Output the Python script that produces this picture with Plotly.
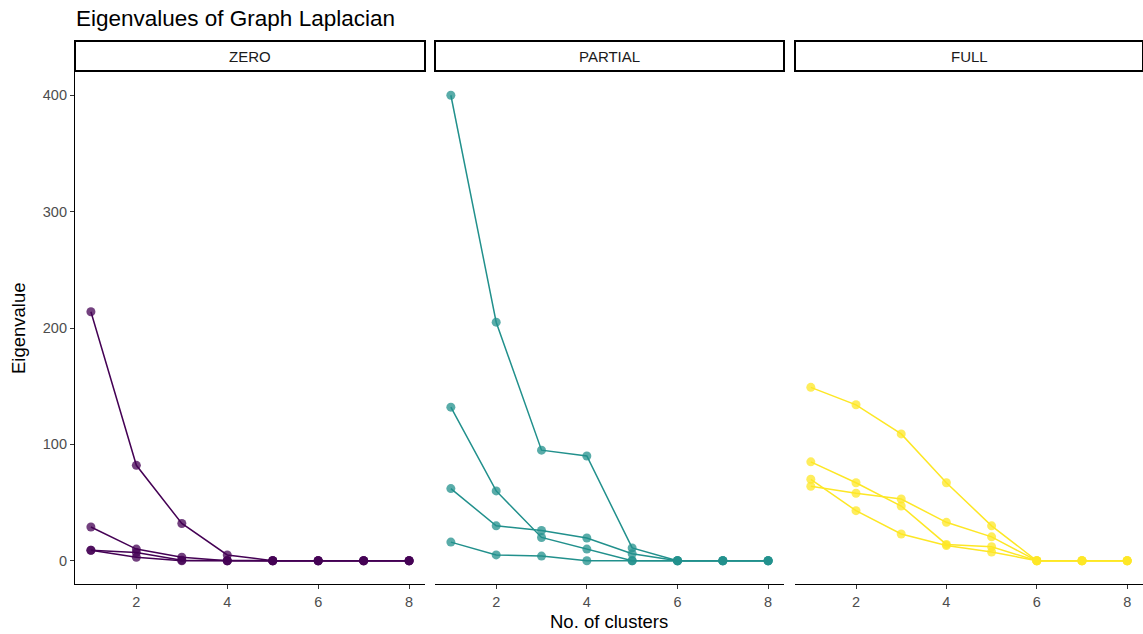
import plotly.graph_objects as go

clusters = [1, 2, 3, 4, 5, 6, 7, 8]
panels = ["ZERO", "PARTIAL", "FULL"]
colors = {"ZERO": "#440154", "PARTIAL": "#21908C", "FULL": "#FDE725"}
point_colors = {"ZERO": "rgba(68,1,84,0.75)", "PARTIAL": "rgba(33,144,140,0.75)", "FULL": "rgba(253,231,37,0.75)"}

zero_1 = [214, 82, 32, 5, 0, 0, 0, 0]
zero_2 = [29, 10, 3, 0, 0, 0, 0, 0]
zero_3 = [9, 7, 0.5, 0, 0, 0, 0, 0]
zero_4 = [9, 3, 0, 0, 0, 0, 0, 0]

partial_1 = [400, 205, 95, 90, 11, 0, 0, 0]
partial_2 = [132, 60, 20, 10, 0, 0, 0, 0]
partial_3 = [62, 30, 26, 19.5, 6, 0, 0, 0]
partial_4 = [16, 5, 4, 0, 0, 0, 0, 0]

full_1 = [149, 134, 109, 67, 30, 0, 0, 0]
full_2 = [85, 67, 47, 14, 12, 0, 0, 0]
full_3 = [64, 58, 53, 33, 20.5, 0, 0, 0]
full_4 = [70, 43, 23, 13, 7.5, 0, 0, 0]

series = {
    "ZERO": [zero_1, zero_2, zero_3, zero_4],
    "PARTIAL": [partial_1, partial_2, partial_3, partial_4],
    "FULL": [full_1, full_2, full_3, full_4],
}

W, H = 1143, 634
FONT = "Liberation Sans, Arial, sans-serif"
xdomains = [(75, 425), (435, 784), (795, 1143)]
ytop, ybot = 72, 584
TICK = 14.5

fig = go.Figure()
for i, p in enumerate(panels):
    ax = "" if i == 0 else str(i + 1)
    for vals in series[p]:
        fig.add_trace(go.Scatter(
            x=clusters, y=vals, mode="lines",
            line=dict(color=colors[p], width=1.5),
            xaxis="x" + ax, yaxis="y" + ax, showlegend=False, hoverinfo="skip"))
    for vals in series[p]:
        fig.add_trace(go.Scatter(
            x=clusters, y=vals, mode="markers",
            marker=dict(color=point_colors[p], size=9, line=dict(width=0)),
            xaxis="x" + ax, yaxis="y" + ax, showlegend=False))

layout = dict(
    width=W, height=H,
    margin=dict(l=0, r=0, t=0, b=0),
    plot_bgcolor="white", paper_bgcolor="white",
    font=dict(family=FONT, color="#4D4D4D", size=TICK),
    shapes=[], annotations=[],
)

ydom = [1 - ybot / H, 1 - ytop / H]
for i, (x0, x1) in enumerate(xdomains):
    key = "" if i == 0 else str(i + 1)
    layout["xaxis" + key] = dict(
        domain=[x0 / W, x1 / W], range=[0.65, 8.35],
        tickvals=[2, 4, 6, 8], ticks="outside", ticklen=4, tickcolor="#333333",
        showline=True, linecolor="black", linewidth=1.2, showgrid=False, zeroline=False,
        tickfont=dict(size=TICK, color="#4D4D4D", family=FONT),
        anchor="y" + key, fixedrange=True)
    layout["yaxis" + key] = dict(
        domain=ydom, range=[-20, 420],
        tickvals=[0, 100, 200, 300, 400],
        ticks="outside" if i == 0 else "", ticklen=4, tickcolor="#333333",
        showticklabels=(i == 0),
        showline=(i == 0), linecolor="black", linewidth=1.2,
        showgrid=False, zeroline=False,
        tickfont=dict(size=TICK, color="#4D4D4D", family=FONT),
        anchor="x" + key, fixedrange=True)
    # strip
    layout["shapes"].append(dict(
        type="rect", xref="paper", yref="paper",
        x0=x0 / W, x1=x1 / W, y0=1 - 71 / H, y1=1 - 41 / H,
        line=dict(color="black", width=2), fillcolor="white"))
    layout["annotations"].append(dict(
        text=panels[i], xref="paper", yref="paper",
        x=(x0 + x1) / 2 / W, y=1 - 56 / H, showarrow=False,
        xanchor="center", yanchor="middle",
        font=dict(size=15, color="#1A1A1A", family=FONT)))

layout["annotations"].append(dict(
    text="Eigenvalues of Graph Laplacian", xref="paper", yref="paper",
    x=74 / W, y=1 - 18 / H, showarrow=False, xanchor="left", yanchor="middle",
    font=dict(size=22.5, color="black", family=FONT)))
layout["annotations"].append(dict(
    text="No. of clusters", xref="paper", yref="paper",
    x=609 / W, y=1 - 621 / H, showarrow=False, xanchor="center", yanchor="middle",
    font=dict(size=18.5, color="black", family=FONT)))
layout["annotations"].append(dict(
    text="Eigenvalue", xref="paper", yref="paper",
    x=18 / W, y=1 - 328 / H, showarrow=False, xanchor="center", yanchor="middle",
    textangle=-90, font=dict(size=18.5, color="black", family=FONT)))

fig.update_layout(**layout)
fig.write_html("out.html")
